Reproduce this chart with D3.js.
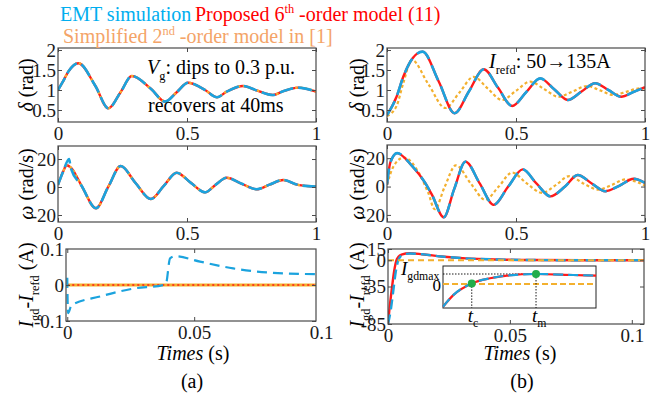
<!DOCTYPE html>
<html>
<head>
<meta charset="utf-8">
<script src="https://cdn.jsdelivr.net/npm/d3@7"></script>
<style>
  body { margin: 0; background: #fff; }
  svg text { font-family: 'Liberation Serif', Tinos, 'Times New Roman', Times, 'DejaVu Serif', serif !important; white-space: pre; }
</style>
</head>
<body>
<div id="chart"></div>
<script>
// ---------------- data (time in s, value) ----------------
// (a) grid voltage dip: the three models lie on top of each other
const deltaA = [[0,1.0],[0.02,1.22],[0.04,1.46],[0.079,1.67],[0.145,1.1],[0.195,0.54],[0.243,0.95],[0.286,1.35],
  [0.36,1.03],[0.415,0.71],[0.46,0.945],[0.504,1.18],[0.57,1.0],[0.616,0.82],[0.654,0.96],[0.717,1.10],
  [0.77,0.99],[0.833,0.875],[0.873,0.97],[0.93,1.06],[1.0,0.96]];
const omegaEmtA = [[0,1.5],[0.02,11],[0.043,20],[0.049,14],[0.092,0.7],[0.147,-15.2],[0.195,0.2],[0.243,15],
  [0.30,3],[0.36,-8.6],[0.41,0.8],[0.46,10.2],[0.515,3],[0.57,-3.8],[0.61,1.5],[0.654,6.6],[0.71,2.5],
  [0.77,-1.6],[0.82,1.7],[0.873,5],[0.93,1.5],[1.0,0.3]];
const omegaModelA = [[0,1.5],[0.02,11],[0.033,15.5],[0.049,14],[0.092,0.7],[0.147,-15.2],[0.195,0.2],[0.243,15],
  [0.30,3],[0.36,-8.6],[0.41,0.8],[0.46,10.2],[0.515,3],[0.57,-3.8],[0.61,1.5],[0.654,6.6],[0.71,2.5],
  [0.77,-1.6],[0.82,1.7],[0.873,5],[0.93,1.5],[1.0,0.3]];
const errEmtA = [[0,0.02],[0.0003,-0.078],[0.0017,-0.056],[0.0129,-0.032],[0.026,-0.01],[0.0378,0.0],
  [0.0389,0.004],[0.0405,0.074],[0.0425,0.08],[0.0523,0.065],[0.0654,0.046],[0.0786,0.035],[0.098,0.03]];
const errModelA = [[0,0],[0.098,0]];

// (b) current reference step: EMT and proposed model coincide
const deltaB = [[0,0.37],[0.037,0.83],[0.063,1.33],[0.1,1.8],[0.138,1.96],[0.2,1.22],[0.262,0.42],[0.318,0.97],
  [0.375,1.52],[0.43,1.06],[0.485,0.6],[0.54,0.95],[0.594,1.29],[0.648,1.02],[0.701,0.75],[0.754,0.96],
  [0.807,1.17],[0.858,1.0],[0.908,0.83],[0.955,0.95],[1.0,1.07]];
const deltaSimpB = [[0,0.35],[0.037,0.6],[0.063,1.17],[0.096,1.75],[0.16,1.15],[0.226,0.55],[0.281,0.94],
  [0.336,1.33],[0.39,1.04],[0.446,0.75],[0.5,0.98],[0.555,1.21],[0.61,1.02],[0.665,0.83],[0.72,0.965],
  [0.775,1.10],[0.826,0.99],[0.878,0.875],[0.93,0.96],[0.98,1.04],[1.0,1.04]];
const omegaB = [[0,1.4],[0.013,17],[0.039,23.6],[0.097,14.5],[0.148,2.6],[0.174,-5.7],[0.22,-21.7],[0.26,-2],
  [0.304,17.6],[0.36,2],[0.413,-12.9],[0.47,0],[0.526,12.1],[0.58,2],[0.633,-6.9],[0.69,0],[0.739,8.1],
  [0.795,2],[0.846,-3.3],[0.90,0.5],[0.956,5.5],[1.0,2.6]];
const omegaSimpB = [[0,1.4],[0.026,14.5],[0.065,20.5],[0.123,9.8],[0.16,-4.5],[0.185,-16],[0.224,0],[0.267,15],
  [0.325,2],[0.381,-9.3],[0.433,0],[0.485,9.8],[0.543,2],[0.601,-4.5],[0.654,1],[0.707,7.4],[0.763,2],
  [0.82,-2.1],[0.87,1],[0.924,5],[1.0,0.7]];
const errEmtB = [[0,-85],[0.0012,-65],[0.0022,-40],[0.0032,-15],[0.0045,2],[0.006,7],[0.009,9],[0.014,8],
  [0.022,5],[0.032,2.5],[0.045,1],[0.06,0.3],[0.08,0],[0.105,0]];
const errPropB = [[0,-85],[0.0006,-65],[0.0015,-40],[0.0025,-15],[0.0037,2],[0.0055,7.5],[0.009,9.3],[0.014,8],
  [0.022,5],[0.032,2.5],[0.045,1],[0.06,0.3],[0.08,0],[0.105,0]];
const errSimpB = [[0,0],[0.105,0]];

// inset of (b): normalised time / current
const insetCurve = [[0,-0.76],[0.067,-0.37],[0.188,0.02],[0.307,0.19],[0.417,0.28],[0.608,0.333],[0.852,0.30],[1,0.28]];
const insetZero = [[0,0],[1,0]];
const markT = [0.188, 0.608];
const markV = [0.02, 0.333];
const markSub = ["c", "m"];

// ticks
const xTicksLong = [0, 0.5, 1],        xLabelsLong = ["0", "0.5", "1"];
const xTicksShort = [0, 0.05, 0.1],    xLabelsShort = ["0", "0.05", "0.1"];
const yTicksDelta = [0.5, 1, 1.5, 2],  yLabelsDelta = ["0.5", "1", "1.5", "2"];
const yTicksOmega = [-20, 0, 20],      yLabelsOmega = ["-20", "0", "20"];
const yTicksErrA = [-0.1, 0, 0.1],     yLabelsErrA = ["-0.1", "0", "0.1"];
const yTicksErrB = [-85, -35, 0, 15],  yLabelsErrB = ["-85", "-35", "0", "15"];

// ---------------- drawing ----------------
const C = {emt: "#1ba3de", prop: "#ff1a1a", simp: "#f3b02e", green: "#22ad4b",
  emtText: "#00aeef", propText: "#ff0000", simpText: "#f4a468", axis: "#4a4a4a"};
const SERIF = "'Liberation Serif', Tinos, 'Times New Roman', Times, 'DejaVu Serif', serif";

const svg = d3.select("#chart").append("svg").attr("width", 664).attr("height", 400)
  .attr("font-family", SERIF);

function panel(p) {
  const x = d3.scaleLinear().domain(p.xd).range([p.x0, p.x1]);
  const y = d3.scaleLinear().domain(p.yd).range([p.y1, p.y0]);
  const g = svg.append("g");
  svg.append("clipPath").attr("id", "clip" + p.id).append("rect")
    .attr("x", p.x0).attr("y", p.y0).attr("width", p.x1 - p.x0).attr("height", p.y1 - p.y0);
  const plot = g.append("g").attr("clip-path", `url(#clip${p.id})`);

  const lab = (ticks, labels) => d => labels[ticks.indexOf(d)];
  g.append("g").attr("transform", `translate(0,${p.y1})`)
    .call(d3.axisBottom(x).tickValues(p.xt).tickSize(-4).tickPadding(5).tickFormat(lab(p.xt, p.xl)));
  g.append("g").attr("transform", `translate(0,${p.y0})`)
    .call(d3.axisTop(x).tickValues(p.xt).tickSize(-4).tickFormat(""));
  g.append("g").attr("transform", `translate(${p.x0},0)`)
    .call(d3.axisLeft(y).tickValues(p.yt).tickSize(-4).tickPadding(2).tickFormat(lab(p.yt, p.yl)));
  g.append("g").attr("transform", `translate(${p.x1},0)`)
    .call(d3.axisRight(y).tickValues(p.yt).tickSize(-4).tickFormat(""));
  g.selectAll(".domain").remove();
  g.selectAll("g").attr("font-family", null);
  g.selectAll(".tick").filter(d => typeof d === "number" && x(d) > p.x1 + 0.5 && p.xt.includes(d))
    .select("line").remove();
  g.selectAll(".tick line").attr("stroke", C.axis);
  g.selectAll(".tick text").attr("font-size", 19).attr("fill", "#1a1a1a").attr("font-family", SERIF);
  g.append("rect").attr("x", p.x0).attr("y", p.y0).attr("width", p.x1 - p.x0).attr("height", p.y1 - p.y0)
    .attr("fill", "none").attr("stroke", C.axis).attr("stroke-width", 1.2);
  return {x, y, plot, g};
}

function line(pn, data, color, width, dash) {
  pn.plot.append("path").datum(data)
    .attr("fill", "none").attr("stroke", color).attr("stroke-width", width)
    .attr("stroke-dasharray", dash || null)
    .attr("d", d3.line().x(d => pn.x(d[0])).y(d => pn.y(d[1])).curve(d3.curveMonotoneX));
}

function rich(parent, x, y, parts, o) {
  const size = o.size || 20;
  const t = parent.append("text").attr("x", x).attr("y", y).attr("font-size", size)
    .attr("font-family", SERIF)
    .attr("fill", o.fill || "#000").attr("text-anchor", o.anchor || "start");
  if (o.rotate) t.attr("transform", `rotate(-90,${x},${y})`);
  let shift = 0;
  parts.forEach(p => {
    const target = p.sub ? size * 0.28 : p.sup ? -size * 0.42 : 0;
    const s = t.append("tspan").text(p.t).attr("dy", target - shift)
      .attr("font-size", (p.sub || p.sup) ? size * 0.62 : size);
    if (p.i) s.attr("font-style", "italic");
    shift = target;
  });
  return t;
}

// panels
const a1 = panel({id: "a1", x0: 58, x1: 316, y0: 48, y1: 122, xd: [0, 1], yd: [0.2, 2.05],
  xt: xTicksLong, xl: xLabelsLong, yt: yTicksDelta, yl: yLabelsDelta});
const a2 = panel({id: "a2", x0: 58, x1: 316, y0: 146, y1: 222, xd: [0, 1], yd: [-25, 29.3],
  xt: xTicksLong, xl: xLabelsLong, yt: yTicksOmega, yl: yLabelsOmega});
const a3 = panel({id: "a3", x0: 66, x1: 316, y0: 249, y1: 321, xd: [-0.0005, 0.098], yd: [-0.1, 0.1],
  xt: xTicksShort, xl: xLabelsShort, yt: yTicksErrA, yl: yLabelsErrA});
const b1 = panel({id: "b1", x0: 387, x1: 645, y0: 48, y1: 122, xd: [0, 1], yd: [0.2, 2.05],
  xt: xTicksLong, xl: xLabelsLong, yt: yTicksDelta, yl: yLabelsDelta});
const b2 = panel({id: "b2", x0: 387, x1: 645, y0: 145, y1: 222, xd: [0, 1], yd: [-25, 29.3],
  xt: xTicksLong, xl: xLabelsLong, yt: yTicksOmega, yl: yLabelsOmega});
const b3 = panel({id: "b3", x0: 388, x1: 644, y0: 249, y1: 324, xd: [0, 0.105], yd: [-85, 15],
  xt: xTicksShort, xl: xLabelsShort, yt: yTicksErrB, yl: yLabelsErrB});

// (a)
line(a1, deltaA, C.prop, 2.4);
line(a1, deltaA, C.simp, 2.2, "2.5,2.5");
line(a1, deltaA, C.emt, 2.6, "14,5");
line(a2, omegaModelA, C.prop, 2.4);
line(a2, omegaModelA, C.simp, 2.2, "2.5,2.5");
line(a2, omegaEmtA, C.emt, 2.6, "14,5");
line(a3, errModelA, C.simp, 3);
line(a3, errModelA, C.prop, 1.4, "2,3");
line(a3, errEmtA, C.emt, 2.2, "10,6");

// (b)
line(b1, deltaSimpB, C.simp, 2.2, "3,2.5");
line(b1, deltaB, C.prop, 2.4);
line(b1, deltaB, C.emt, 2.6, "16,7");
line(b2, omegaSimpB, C.simp, 2.2, "3,2.5");
line(b2, omegaB, C.prop, 2.4);
line(b2, omegaB, C.emt, 2.6, "16,7");
line(b3, errPropB, C.prop, 2.4);
line(b3, errEmtB, C.emt, 2.4, "10,5");
line(b3, errSimpB, C.simp, 2, "6,4");

// inset in (b)
const ix = d3.scaleLinear().domain([0, 1]).range([443, 596]);
const iy = d3.scaleLinear().domain([-0.8, 0.6]).range([308, 266]);
const ins = svg.append("g");
ins.append("rect").attr("x", 443).attr("y", 266).attr("width", 153).attr("height", 42)
  .attr("fill", "#fff").attr("stroke", "#222").attr("stroke-width", 1);
const il = d3.line().x(d => ix(d[0])).y(d => iy(d[1])).curve(d3.curveMonotoneX);
ins.append("path").datum(insetZero).attr("d", il).attr("fill", "none")
  .attr("stroke", C.simp).attr("stroke-width", 2).attr("stroke-dasharray", "6,3");
ins.append("line").attr("x1", ix(0)).attr("x2", ix(markT[1])).attr("y1", iy(markV[1])).attr("y2", iy(markV[1]))
  .attr("stroke", "#000").attr("stroke-width", 0.9).attr("stroke-dasharray", "1.5,1.5");
markT.forEach((t, i) => {
  ins.append("line").attr("x1", ix(t)).attr("x2", ix(t)).attr("y1", iy(markV[i])).attr("y2", 308)
    .attr("stroke", "#000").attr("stroke-width", 0.9).attr("stroke-dasharray", "1.5,1.5");
});
ins.append("path").datum(insetCurve).attr("d", il).attr("fill", "none")
  .attr("stroke", C.prop).attr("stroke-width", 2.2);
ins.append("path").datum(insetCurve).attr("d", il).attr("fill", "none")
  .attr("stroke", C.emt).attr("stroke-width", 2.2).attr("stroke-dasharray", "10,5");
markT.forEach((t, i) => {
  ins.append("circle").attr("cx", ix(t)).attr("cy", iy(markV[i])).attr("r", 4).attr("fill", C.green);
  rich(ins, ix(t) - 4, 322, [{t: "t", i: true}, {t: markSub[i], sub: true}], {size: 19});
});
rich(ins, 401, 275, [{t: "I", i: true}, {t: "gdmax", sub: true}], {size: 19});
rich(ins, 441, 291, [{t: "0"}], {size: 17, anchor: "end"});

// legend
rich(svg, 60, 21, [{t: "EMT simulation"}], {size: 20, fill: C.emtText});
rich(svg, 195, 21, [{t: "Proposed 6"}, {t: "th", sup: true}, {t: " -order model (11)"}], {size: 20, fill: C.propText});
rich(svg, 63, 43, [{t: "Simplified 2"}, {t: "nd", sup: true}, {t: " -order model in [1]"}], {size: 20, fill: C.simpText});

// annotations
rich(svg, 147, 74, [{t: "V", i: true}, {t: "g", sub: true}, {t: ": dips to 0.3 p.u."}], {size: 20});
rich(svg, 148, 112, [{t: "recovers at 40ms"}], {size: 20});
rich(svg, 489, 68, [{t: "I", i: true}, {t: "refd", sub: true}, {t: ": 50\u2192135A"}], {size: 20});

// axis titles
[33, 364].forEach(lx => {
  rich(svg, lx, 85, [{t: "\u03b4", i: true}, {t: " (rad)"}], {size: 20, anchor: "middle", rotate: true});
  rich(svg, lx, 184, [{t: "\u03c9", i: true}, {t: " (rad/s)"}], {size: 20, anchor: "middle", rotate: true});
  rich(svg, lx, 285, [{t: "I", i: true}, {t: "gd", sub: true}, {t: "-"}, {t: "I", i: true}, {t: "refd", sub: true}, {t: " (A)"}],
    {size: 20, anchor: "middle", rotate: true});
});
rich(svg, 193, 360, [{t: "Times", i: true}, {t: " (s)"}], {size: 20, anchor: "middle"});
rich(svg, 520, 360, [{t: "Times", i: true}, {t: " (s)"}], {size: 20, anchor: "middle"});
rich(svg, 192, 388, [{t: "(a)"}], {size: 20, anchor: "middle"});
rich(svg, 522, 388, [{t: "(b)"}], {size: 20, anchor: "middle"});
</script>
</body>
</html>
